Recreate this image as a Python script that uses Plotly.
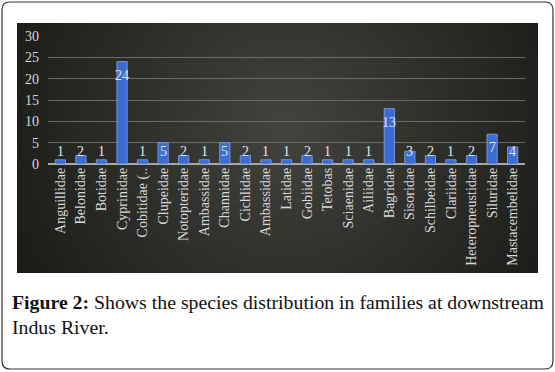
import base64
import struct
import zlib

import numpy as np
import plotly.graph_objects as go

families = ["Anguillidae", "Belonidae", "Botidae", "Cyprinidae", "Cobitidae (..",
            "Clupeidae", "Notopteridae", "Ambassidae", "Channidae", "Cichlidae",
            "Ambassidae", "Latidae", "Gobiidae", "Tetobas", "Sciaenidae", "Ailiidae",
            "Bagridae", "Sisoridae", "Schilbeidae", "Clariidae", "Heteropneustidae",
            "Siluridae", "Mastacembelidae"]
species = [1, 2, 1, 24, 1, 5, 2, 1, 5, 2, 1, 1, 2, 1, 1, 1, 13, 3, 2, 1, 2, 7, 4]
y_ticks = [0, 5, 10, 15, 20, 25, 30]

W, H = 555, 372
L, R, T, B = 48, 525, 36, 164  # plot area in px


def px(x):
    return (x - L) / (R - L)


def py(y):
    return (B - y) / (B - T)


# ---- radial-gradient background (chart area) as an embedded PNG ----
def gradient_png(w, h, cx, cy):
    yy, xx = np.mgrid[0:h, 0:w]
    d = np.sqrt((xx - cx) ** 2 + (yy - cy) ** 2) / 300.0
    d = np.clip(d, 0, 1.15)
    v = 66 - 40 * d
    r = np.clip(v + 1, 0, 255)
    g = np.clip(v + 1, 0, 255)
    b = np.clip(v - 2, 0, 255)
    img = np.stack([r, g, b], axis=-1).astype(np.uint8)
    raw = b"".join(b"\x00" + img[i].tobytes() for i in range(h))

    def chunk(tag, data):
        c = struct.pack(">I", len(data)) + tag + data
        return c + struct.pack(">I", zlib.crc32(tag + data) & 0xFFFFFFFF)

    png = (b"\x89PNG\r\n\x1a\n"
           + chunk(b"IHDR", struct.pack(">IIBBBBB", w, h, 8, 2, 0, 0, 0))
           + chunk(b"IDAT", zlib.compress(raw, 9))
           + chunk(b"IEND", b""))
    return "data:image/png;base64," + base64.b64encode(png).decode()


BX0, BX1, BY0, BY1 = 17, 538, 23, 273
bg = gradient_png(BX1 - BX0, BY1 - BY0, 268, 105)

xs = list(range(len(families)))

fig = go.Figure()
fig.add_trace(go.Bar(
    x=xs, y=species,
    marker=dict(color="#3a6cd2", line=dict(color="#8fb0f2", width=0.7)),
    width=0.5,
    hoverinfo="x+y",
))

annotations = []
for x, v in zip(xs, species):
    annotations.append(dict(
        x=x, y=max(v - 3.2, 3.0), xref="x", yref="y",
        text=str(v), showarrow=False, yanchor="middle", xanchor="center",
        font=dict(family="Liberation Serif", size=14, color="#e6e6e6"),
    ))

# caption
cap_font = dict(family="Liberation Serif", size=19.8, color="#111111")
annotations.append(dict(
    x=px(10), y=py(302), xref="paper", yref="paper", xanchor="left", yanchor="middle",
    text="<b>Figure 2:</b> Shows the species distribution in families at downstream",
    showarrow=False, align="left", font=cap_font,
))
annotations.append(dict(
    x=px(10), y=py(327), xref="paper", yref="paper", xanchor="left", yanchor="middle",
    text="Indus River.", showarrow=False, align="left", font=cap_font,
))

r = 8
x0, x1, y0, y1 = 2, 553, 2, 369


def P(x, y):
    return f"{px(x):.5f},{py(y):.5f}"


outer = (f"M{P(x0 + r, y0)} L{P(x1 - r, y0)} Q{P(x1, y0)} {P(x1, y0 + r)} "
         f"L{P(x1, y1 - r)} Q{P(x1, y1)} {P(x1 - r, y1)} L{P(x0 + r, y1)} "
         f"Q{P(x0, y1)} {P(x0, y1 - r)} L{P(x0, y0 + r)} Q{P(x0, y0)} {P(x0 + r, y0)} Z")

shapes = [
    dict(type="path", path=outer, xref="paper", yref="paper",
         line=dict(color="#333333", width=1.2), fillcolor="rgba(0,0,0,0)", layer="below"),
]

images = [dict(
    source=bg, xref="paper", yref="paper",
    x=px(BX0), y=py(BY0), sizex=px(BX1) - px(BX0), sizey=py(BY0) - py(BY1),
    xanchor="left", yanchor="top", sizing="stretch", layer="below",
)]

fig.update_layout(
    width=W, height=H,
    margin=dict(l=L, r=W - R, t=T, b=H - B),
    paper_bgcolor="white", plot_bgcolor="rgba(0,0,0,0)",
    showlegend=False,
    bargap=0.5,
    shapes=shapes,
    images=images,
    annotations=annotations,
    xaxis=dict(
        range=[-0.6, len(families) - 0.4],
        tickmode="array", tickvals=xs, ticktext=families,
        tickangle=-90, showgrid=False, zeroline=False, showline=False,
        ticks="", tickfont=dict(family="Liberation Serif", size=14, color="#d9d9d9"),
        fixedrange=True,
    ),
    yaxis=dict(
        range=[0, 30], tickmode="array", tickvals=y_ticks,
        showgrid=True, gridcolor="#6a6a6a", gridwidth=0.8,
        zeroline=True, zerolinecolor="#a8a8a8", zerolinewidth=1.5,
        showline=False, ticks="", ticklabelstandoff=8,
        tickfont=dict(family="Liberation Serif", size=14, color="#d9d9d9"),
        fixedrange=True,
    ),
)

fig.write_html(
    "out.html",
    config={"displayModeBar": False},
    post_script="document.body.style.margin='0';document.body.style.overflow='hidden';",
)
